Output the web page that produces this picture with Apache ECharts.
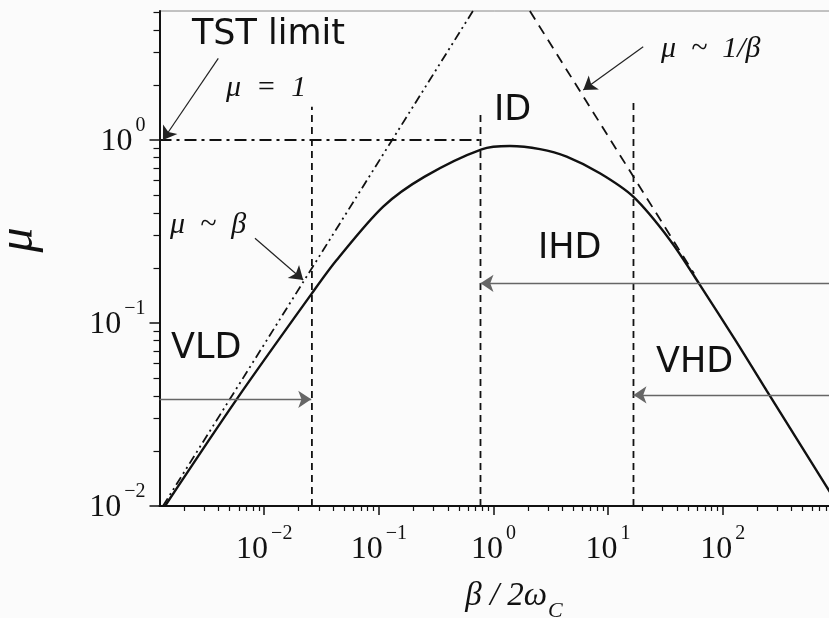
<!DOCTYPE html>
<html>
<head>
<meta charset="utf-8">
<title>mu vs beta / 2 omega_c</title>
<script src="https://cdn.jsdelivr.net/npm/echarts@6/dist/echarts.min.js"></script>
<style>
  html, body { margin: 0; padding: 0; background: #fbfbfb; }
  #chart { width: 829px; height: 618px; }
</style>
</head>
<body>
<div id="chart"></div>
<script>
///////////////////////////////////////////////////
// Data (everything in decades: log10(beta/2wc), log10(mu))
///////////////////////////////////////////////////

// solid curve
var curveLogBeta = [-2.866, -2.241, -1.584, -1.368, -0.962, -0.600, -0.103, 0.144, 0.406, 0.639, 0.929, 1.22, 1.54, 1.80, 2.122, 2.384, 2.907, 3.0];
var curveLogMu = [-2.0, -1.417, -0.838, -0.656, -0.364, -0.200, -0.051, -0.033, -0.050, -0.091, -0.182, -0.31, -0.546, -0.79, -1.105, -1.37, -1.894, -1.99];

// asymptotes and the TST limit
var tstLine = [[-2.914, 0], [-0.113, 0]];          // mu = 1
var lowAsymptote = [[-2.884, -2.0], [-0.179, 0.705]]; // mu ~ beta
var highAsymptote = [[0.318, 0.705], [1.75, -0.73]];  // mu ~ 1/beta

// regime boundaries (vertical dashed lines)
var boundaryLogBeta = [-1.584, -0.113, 1.222];
var boundaryTopLogMu = [0.182, 0.155, 0.228];

// regime arrows: [fromBeta, toBeta, mu]
var regimeArrows = [
  [-2.914, -1.59, -1.417],  // VLD
  [2.95, -0.113, -0.783],   // IHD
  [2.95, 1.222, -1.393]     // VHD
];

// pointer arrows: [[fromBeta, fromMu], [toBeta, toMu]]
var pointerArrows = [
  [[-2.401, 0.446], [-2.884, 0.0]],   // TST limit
  [[-2.081, -0.537], [-1.66, -0.765]], // mu ~ beta
  [[1.307, 0.510], [0.784, 0.273]]     // mu ~ 1/beta
];

// text labels: [name, beta, mu, kind]
var textLabels = [
  ['TST limit', -2.631, 0.577, 'sans'],
  ['\u03bc\u2002=\u20021', -2.334, 0.284, 'math'],
  ['ID', 0.004, 0.161, 'sans'],
  ['IHD', 0.388, -0.596, 'sans'],
  ['VHD', 1.418, -1.219, 'sans'],
  ['VLD', -2.814, -1.142, 'sans'],
  ['\u03bc\u2002~\u2002\u03b2', -2.823, -0.464, 'math'],
  ['\u03bc\u2002~\u20021/\u03b2', 1.462, 0.497, 'math']
];

// axes
var xRange = [-2.914, 2.95];
var yRange = [-2, 0.705];
var xDecades = [-2, -1, 0, 1, 2];
var yDecades = [-2, -1, 0];
var minorSteps = [2, 3, 4, 5, 6, 7, 8, 9];

///////////////////////////////////////////////////
// Helpers
///////////////////////////////////////////////////
var INK = '#111';
var SERIF = 'Liberation Serif';
var SANS = 'DejaVu Sans';

function minorTicks(range) {
  var out = [];
  for (var n = Math.floor(range[0]); n < range[1]; n++) {
    minorSteps.forEach(function (k) {
      var v = n + Math.log10(k);
      if (v > range[0] && v < range[1]) out.push(v);
    });
  }
  return out;
}

function powerLabel(v) {
  var e = Math.round(v);
  return '{b|10}{s|' + (e < 0 ? '\u2212' + (-e) : e) + '}';
}

var powerRich = {
  b: { fontFamily: SERIF, fontSize: 32, lineHeight: 42, color: INK, verticalAlign: 'bottom' },
  s: { fontFamily: SERIF, fontSize: 20, lineHeight: 20, color: INK, verticalAlign: 'top', padding: [0, 0, 0, 3] }
};

function plainLine(points, type, width) {
  return {
    type: 'line',
    data: points,
    showSymbol: false,
    silent: true,
    clip: true,
    lineStyle: { color: INK, width: width, type: type }
  };
}

///////////////////////////////////////////////////
// Series
///////////////////////////////////////////////////
var series = [];

series.push({
  type: 'line',
  name: 'mu',
  data: curveLogBeta.map(function (b, i) { return [b, curveLogMu[i]]; }),
  smooth: 0.3,
  showSymbol: false,
  silent: true,
  clip: true,
  lineStyle: { color: INK, width: 2.4 },
  markLine: {
    silent: true,
    symbol: ['none', 'arrow'],
    symbolSize: 13,
    label: { show: false },
    data: regimeArrows.map(function (a) {
      return [
        { coord: [a[0], a[2]], lineStyle: { color: '#666', width: 1.3, type: 'solid' } },
        { coord: [a[1], a[2]] }
      ];
    }).concat(pointerArrows.map(function (a) {
      return [
        { coord: a[0], lineStyle: { color: '#222', width: 1.2, type: 'solid' } },
        { coord: a[1] }
      ];
    }))
  }
});

series.push(plainLine(tstLine, [12, 5, 3, 5], 1.8));
series.push(plainLine(lowAsymptote, [9, 4, 2, 4, 2, 4], 1.8));
series.push(plainLine(highAsymptote, [10, 7], 1.8));

boundaryLogBeta.forEach(function (b, i) {
  series.push(plainLine([[b, yRange[0]], [b, boundaryTopLogMu[i]]], [7, 5], 1.8));
});

series.push({
  type: 'scatter',
  symbolSize: 0,
  silent: true,
  itemStyle: { opacity: 1 },
  data: textLabels.map(function (t) {
    var math = t[3] === 'math';
    return {
      value: [t[1], t[2]],
      name: t[0],
      label: {
        show: true,
        position: 'right',
        distance: 0,
        formatter: '{b}',
        color: INK,
        opacity: 1,
        fontFamily: math ? SERIF : SANS,
        fontStyle: math ? 'italic' : 'normal',
        fontSize: math ? 30 : 35
      }
    };
  })
});

///////////////////////////////////////////////////
// Chart
///////////////////////////////////////////////////
var chart = echarts.init(document.getElementById('chart'), null, { renderer: 'canvas' });

chart.setOption({
  animation: false,
  backgroundColor: '#fbfbfb',
  grid: {
    left: 159.5, top: 11, width: 672, height: 495,
    outerBoundsMode: 'none', containLabel: false,
    show: true, borderColor: '#888', borderWidth: 1, backgroundColor: 'transparent'
  },
  xAxis: [
    {
      type: 'value', min: xRange[0], max: xRange[1],
      axisLine: { onZero: false, lineStyle: { color: INK, width: 2 } },
      axisTick: { inside: false, length: 9, lineStyle: { color: INK, width: 1.5 }, customValues: xDecades },
      axisLabel: { margin: 18, formatter: powerLabel, rich: powerRich, customValues: xDecades },
      splitLine: { show: false },
      name: '{i|\u03b2 / 2\u03c9}{c|C}',
      nameLocation: 'middle',
      nameGap: 74,
      nameTextStyle: {
        padding: [0, 0, 0, 37],
        rich: {
          i: { fontFamily: SERIF, fontStyle: 'italic', fontSize: 33, lineHeight: 38, color: INK, verticalAlign: 'top' },
          c: { fontFamily: SERIF, fontStyle: 'italic', fontSize: 22, lineHeight: 22, color: INK, verticalAlign: 'top', padding: [20, 0, 0, 1] }
        }
      }
    },
    {
      type: 'value', min: xRange[0], max: xRange[1], position: 'bottom',
      axisLine: { show: false, onZero: false },
      axisTick: { inside: false, length: 5, lineStyle: { color: INK, width: 1.2 }, customValues: minorTicks(xRange) },
      axisLabel: { show: false },
      splitLine: { show: false }
    }
  ],
  yAxis: [
    {
      type: 'value', min: yRange[0], max: yRange[1], interval: 1,
      axisLine: { onZero: false, lineStyle: { color: INK, width: 2 } },
      axisTick: { inside: false, length: 10, lineStyle: { color: INK, width: 1.5 }, customValues: yDecades },
      axisLabel: { margin: 14, padding: [0, 0, 6, 0], formatter: powerLabel, rich: powerRich, customValues: yDecades },
      splitLine: { show: false },
      name: '\u03bc',
      nameLocation: 'middle',
      nameGap: 116,
      nameTextStyle: { fontFamily: SERIF, fontStyle: 'italic', fontSize: 50, color: INK, padding: [0, 0, 0, 37] }
    },
    {
      type: 'value', min: yRange[0], max: yRange[1], position: 'left',
      axisLine: { show: false, onZero: false },
      axisTick: { inside: false, length: 6, lineStyle: { color: INK, width: 1.2 }, customValues: minorTicks(yRange) },
      axisLabel: { show: false },
      splitLine: { show: false }
    }
  ],
  series: series
});
</script>
</body>
</html>
